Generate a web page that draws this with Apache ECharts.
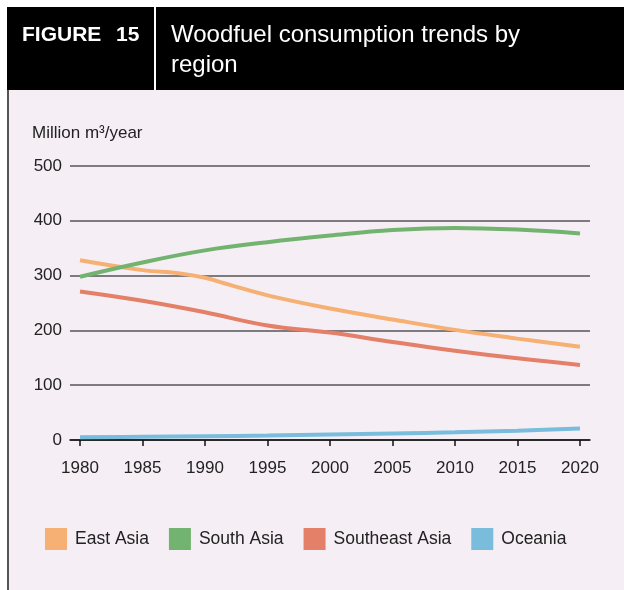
<!DOCTYPE html>
<html>
<head>
<meta charset="utf-8">
<script src="https://cdn.jsdelivr.net/npm/echarts@6/dist/echarts.min.js"></script>
<style>
html,body{margin:0;padding:0;background:#fff;}
#c{width:624px;height:590px;}
</style>
</head>
<body>
<div id="c"></div>
<script>
var seriesNames = ['East Asia', 'South Asia', 'Southeast Asia', 'Oceania'];
var eastAsiaYears = [1980, 1985, 1988, 1990, 1992, 1995, 2000, 2005, 2010, 2015, 2020];
var eastAsia =      [328,  310,  304,  296,  283,  264,  240,  220,  201,  185,  170];
var years = [1980, 1985, 1990, 1995, 2000, 2005, 2010, 2015, 2020];
var southAsia =     [298, 324, 346, 361, 373, 383, 387, 384, 377];
var southeastAsia = [271, 254, 233, 209, 196, 179, 163, 149, 137];
var oceania =       [5, 6, 7, 8, 10, 12, 14, 17, 21];
var yTicks = [0, 100, 200, 300, 400, 500];

var colors = ['#f6b073', '#72b36f', '#e47f68', '#79bcdc'];
function pairs(xs, ys){ return xs.map(function(x,i){ return [x, ys[i]]; }); }

var FONT = 'Liberation Sans, Arial, sans-serif';
var chart = echarts.init(document.getElementById('c'), null, {renderer:'canvas'});
var gTop = 166, gBottom = 150;
var option = {
  backgroundColor: '#fff',
  animation: false,
  graphic: [
    {type:'rect', shape:{x:8, y:90, width:616, height:500}, style:{fill:'#f5eff5'}, z:-10},
    {type:'rect', shape:{x:7, y:7, width:617, height:83}, style:{fill:'#000'}, z:-5},
    {type:'rect', shape:{x:154, y:7, width:2, height:83}, style:{fill:'#fff'}, z:-4},
    {type:'rect', shape:{x:7, y:90, width:2, height:500}, style:{fill:'#555'}, z:-4},
    {type:'text', left:22, top:25, style:{text:'FIGURE', fill:'#fff', font:'bold 21px ' + FONT}},
    {type:'text', left:116, top:25, style:{text:'15', fill:'#fff', font:'bold 21px ' + FONT}},
    {type:'text', left:171, top:20, style:{text:'Woodfuel consumption trends by\nregion', fill:'#fff', font:'24px ' + FONT, lineHeight:30}},
    {type:'text', left:32, top:125, style:{text:'Million m³/year', fill:'#222', font:'17px ' + FONT}}
  ],
  legend: {
    data: seriesNames,
    left: 40, top: 523,
    icon: 'rect', itemWidth: 22, itemHeight: 22, itemGap: 20,
    textStyle: {fontSize: 17.5, color: '#222', fontFamily: FONT, padding:[0,0,0,3]}
  },
  grid: [
    {left:70, right:34, top:gTop, bottom:gBottom},
    {left:80, right:44, top:gTop, bottom:gBottom}
  ],
  xAxis: [
    {gridIndex:0, type:'value', min:0, max:1, axisLine:{show:true, lineStyle:{color:'#111', width:1.5}}, axisTick:{show:false}, axisLabel:{show:false}, splitLine:{show:false}},
    {gridIndex:1, type:'value', min:1980, max:2020, interval:5,
     axisLine:{show:false}, axisTick:{show:true, length:6, lineStyle:{color:'#111', width:1.5}},
     axisLabel:{color:'#222', fontSize:17, fontFamily:FONT, margin:20, formatter:function(v){return String(v);}},
     splitLine:{show:false}}
  ],
  yAxis: [
    {gridIndex:0, type:'value', min:0, max:500, interval:100,
     axisLine:{show:false}, axisTick:{show:false},
     axisLabel:{color:'#222', fontSize:17, fontFamily:FONT, margin:8, formatter:function(v){return yTicks.indexOf(v)>=0?String(v):'';}},
     splitLine:{show:true, lineStyle:{color:'#555', width:1.5}}},
    {gridIndex:1, type:'value', min:0, max:500, interval:100, show:false, splitLine:{show:false}}
  ],
  series: [
    {name:seriesNames[0], type:'line', xAxisIndex:1, yAxisIndex:1, data:pairs(eastAsiaYears, eastAsia), smooth:0.4, showSymbol:false, symbol:'none', lineStyle:{width:4, color:colors[0]}, itemStyle:{color:colors[0]}},
    {name:seriesNames[1], type:'line', xAxisIndex:1, yAxisIndex:1, data:pairs(years, southAsia), smooth:0.4, showSymbol:false, symbol:'none', lineStyle:{width:4, color:colors[1]}, itemStyle:{color:colors[1]}},
    {name:seriesNames[2], type:'line', xAxisIndex:1, yAxisIndex:1, data:pairs(years, southeastAsia), smooth:0.4, showSymbol:false, symbol:'none', lineStyle:{width:4, color:colors[2]}, itemStyle:{color:colors[2]}},
    {name:seriesNames[3], type:'line', xAxisIndex:1, yAxisIndex:1, data:pairs(years, oceania), smooth:0.4, showSymbol:false, symbol:'none', lineStyle:{width:4, color:colors[3]}, itemStyle:{color:colors[3]}}
  ]
};
chart.setOption(option);
</script>
</body>
</html>
